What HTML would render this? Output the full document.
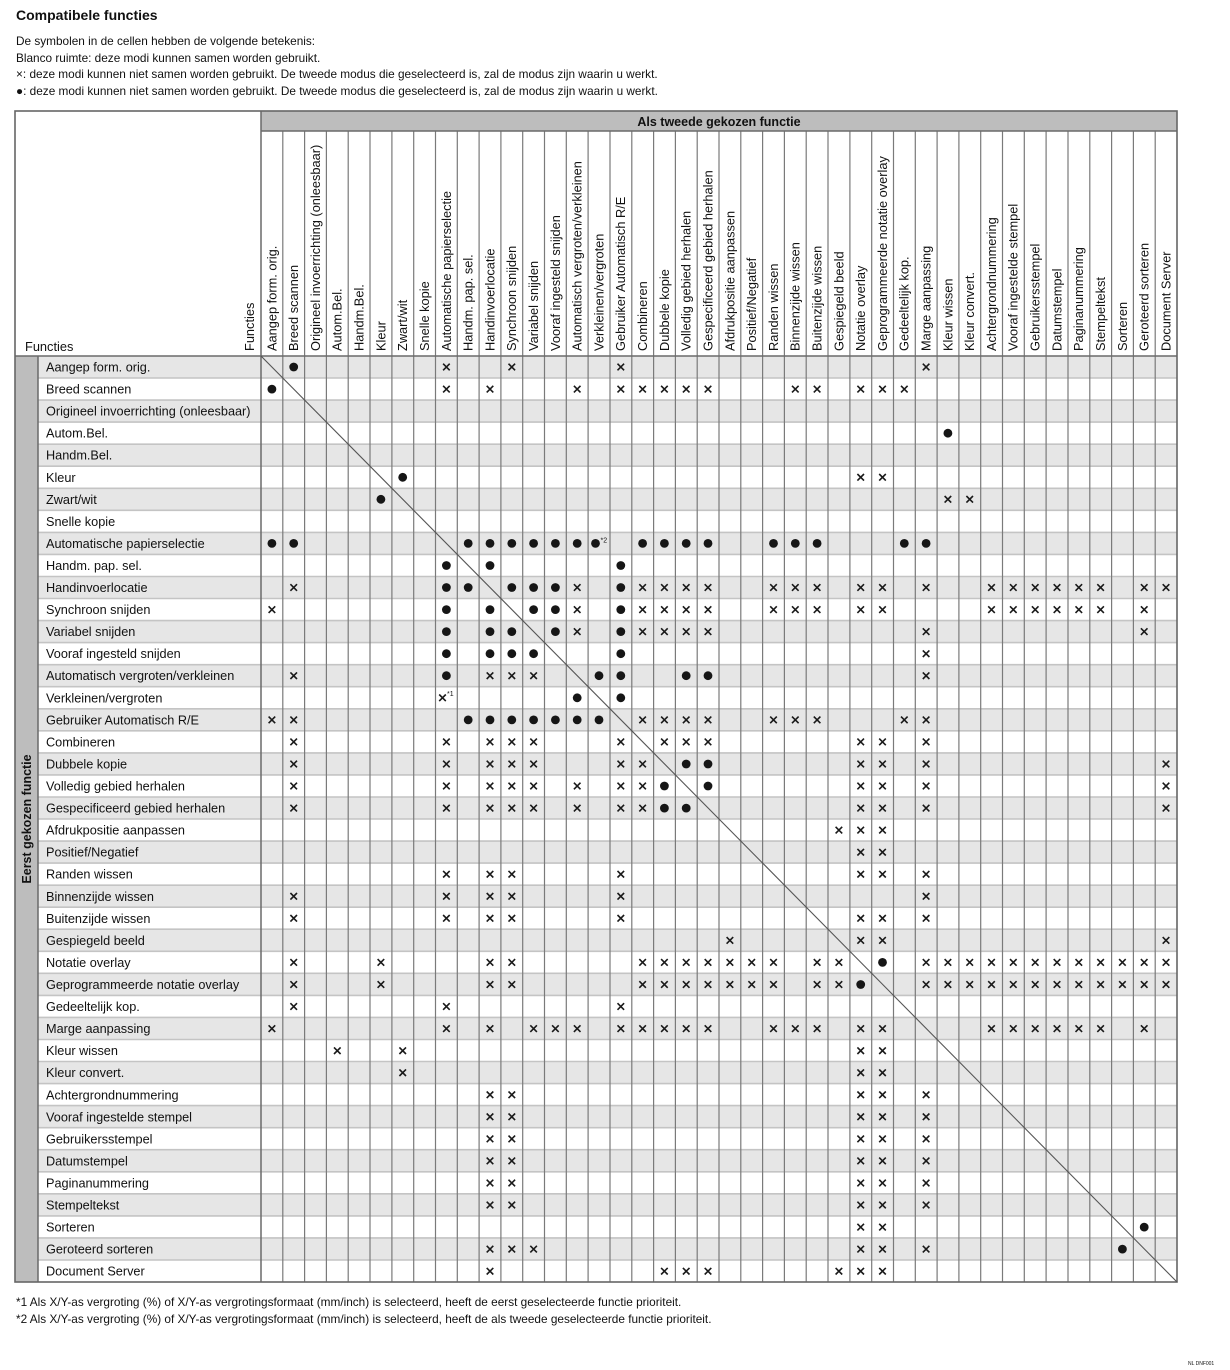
<!DOCTYPE html>
<html><head><meta charset="utf-8"><style>
html,body{margin:0;padding:0;background:#fff}
svg{display:block}
text{font-family:"Liberation Sans",Arial,sans-serif;fill:#111}
.h{font-size:12.8px}
.r{font-size:12.7px}
.t{font-size:11.8px}
</style></head><body>
<svg width="1230" height="1370" viewBox="0 0 1230 1370" xmlns="http://www.w3.org/2000/svg">
<defs>
<g id="x"><path d="M-3.3,-3.3L3.3,3.3M3.3,-3.3L-3.3,3.3" stroke="#1a1a1a" stroke-width="1.6"/></g>
<g id="d"><circle r="4.4" fill="#161616"/></g>
</defs>
<text x="16" y="20" style="font-size:14px;font-weight:bold">Compatibele functies</text>
<text class="t" x="16" y="45">De symbolen in de cellen hebben de volgende betekenis:</text>
<text class="t" x="16" y="62">Blanco ruimte: deze modi kunnen samen worden gebruikt.</text>
<text class="t" x="16" y="78">×: deze modi kunnen niet samen worden gebruikt. De tweede modus die geselecteerd is, zal de modus zijn waarin u werkt.</text>
<text class="t" x="16" y="95">●: deze modi kunnen niet samen worden gebruikt. De tweede modus die geselecteerd is, zal de modus zijn waarin u werkt.</text>

<rect x="261" y="111" width="916" height="20" fill="#bdbdbd"/>
<rect x="15" y="356" width="23" height="926" fill="#bdbdbd"/>
<g fill="#e6e6e6">
<rect x="38" y="356" width="1139" height="22"/>
<rect x="38" y="400.1" width="1139" height="22"/>
<rect x="38" y="444.2" width="1139" height="22"/>
<rect x="38" y="488.3" width="1139" height="22"/>
<rect x="38" y="532.4" width="1139" height="22"/>
<rect x="38" y="576.5" width="1139" height="22"/>
<rect x="38" y="620.6" width="1139" height="22"/>
<rect x="38" y="664.7" width="1139" height="22"/>
<rect x="38" y="708.8" width="1139" height="22"/>
<rect x="38" y="752.9" width="1139" height="22"/>
<rect x="38" y="797" width="1139" height="22"/>
<rect x="38" y="841.1" width="1139" height="22"/>
<rect x="38" y="885.2" width="1139" height="22"/>
<rect x="38" y="929.2" width="1139" height="22"/>
<rect x="38" y="973.3" width="1139" height="22"/>
<rect x="38" y="1017.4" width="1139" height="22"/>
<rect x="38" y="1061.5" width="1139" height="22"/>
<rect x="38" y="1105.6" width="1139" height="22"/>
<rect x="38" y="1149.7" width="1139" height="22"/>
<rect x="38" y="1193.8" width="1139" height="22"/>
<rect x="38" y="1237.9" width="1139" height="22"/>
</g>
<path stroke="#c4c4c4" stroke-width="1.6" fill="none" d="M38,378H1177M38,400.1H1177M38,422.1H1177M38,444.2H1177M38,466.2H1177M38,488.3H1177M38,510.3H1177M38,532.4H1177M38,554.4H1177M38,576.5H1177M38,598.5H1177M38,620.6H1177M38,642.6H1177M38,664.7H1177M38,686.7H1177M38,708.8H1177M38,730.8H1177M38,752.9H1177M38,774.9H1177M38,797H1177M38,819H1177M38,841.1H1177M38,863.1H1177M38,885.2H1177M38,907.2H1177M38,929.2H1177M38,951.3H1177M38,973.3H1177M38,995.4H1177M38,1017.4H1177M38,1039.5H1177M38,1061.5H1177M38,1083.6H1177M38,1105.6H1177M38,1127.7H1177M38,1149.7H1177M38,1171.8H1177M38,1193.8H1177M38,1215.9H1177M38,1237.9H1177M38,1260H1177"/>
<path stroke="#7a7a7a" stroke-width="1.2" fill="none" d="M282.8,131V1282M304.6,131V1282M326.4,131V1282M348.2,131V1282M370,131V1282M391.9,131V1282M413.7,131V1282M435.5,131V1282M457.3,131V1282M479.1,131V1282M500.9,131V1282M522.7,131V1282M544.5,131V1282M566.3,131V1282M588.1,131V1282M610,131V1282M631.8,131V1282M653.6,131V1282M675.4,131V1282M697.2,131V1282M719,131V1282M740.8,131V1282M762.6,131V1282M784.4,131V1282M806.2,131V1282M828,131V1282M849.9,131V1282M871.7,131V1282M893.5,131V1282M915.3,131V1282M937.1,131V1282M958.9,131V1282M980.7,131V1282M1002.5,131V1282M1024.3,131V1282M1046.1,131V1282M1068,131V1282M1089.8,131V1282M1111.6,131V1282M1133.4,131V1282M1155.2,131V1282"/>
<path stroke="#6a6a6a" stroke-width="1.5" fill="none" d="M261,111V1282M38,356V1282M15,356H1177M261,131H1177"/>
<rect x="15" y="111" width="1162" height="1171" fill="none" stroke="#666" stroke-width="1.6"/>
<line x1="261" y1="356" x2="1177" y2="1282" stroke="#555" stroke-width="1.1"/>

<text x="719" y="126" text-anchor="middle" style="font-size:12.5px;font-weight:bold">Als tweede gekozen functie</text>
<text transform="translate(31,819) rotate(-90)" text-anchor="middle" style="font-size:12.5px;font-weight:bold">Eerst gekozen functie</text>
<text class="h" x="25" y="351">Functies</text>
<text class="h" transform="translate(254,351) rotate(-90)">Functies</text>

<g class="h">
<text transform="translate(276.3,351) rotate(-90)">Aangep form. orig.</text>
<text transform="translate(298.1,351) rotate(-90)">Breed scannen</text>
<text transform="translate(319.9,351) rotate(-90)">Origineel invoerrichting (onleesbaar)</text>
<text transform="translate(341.7,351) rotate(-90)">Autom.Bel.</text>
<text transform="translate(363.5,351) rotate(-90)">Handm.Bel.</text>
<text transform="translate(385.3,351) rotate(-90)">Kleur</text>
<text transform="translate(407.1,351) rotate(-90)">Zwart/wit</text>
<text transform="translate(429,351) rotate(-90)">Snelle kopie</text>
<text transform="translate(450.8,351) rotate(-90)">Automatische papierselectie</text>
<text transform="translate(472.6,351) rotate(-90)">Handm. pap. sel.</text>
<text transform="translate(494.4,351) rotate(-90)">Handinvoerlocatie</text>
<text transform="translate(516.2,351) rotate(-90)">Synchroon snijden</text>
<text transform="translate(538,351) rotate(-90)">Variabel snijden</text>
<text transform="translate(559.8,351) rotate(-90)">Vooraf ingesteld snijden</text>
<text transform="translate(581.6,351) rotate(-90)">Automatisch vergroten/verkleinen</text>
<text transform="translate(603.4,351) rotate(-90)">Verkleinen/vergroten</text>
<text transform="translate(625.2,351) rotate(-90)">Gebruiker Automatisch R/E</text>
<text transform="translate(647,351) rotate(-90)">Combineren</text>
<text transform="translate(668.8,351) rotate(-90)">Dubbele kopie</text>
<text transform="translate(690.6,351) rotate(-90)">Volledig gebied herhalen</text>
<text transform="translate(712.4,351) rotate(-90)">Gespecificeerd gebied herhalen</text>
<text transform="translate(734.3,351) rotate(-90)">Afdrukpositie aanpassen</text>
<text transform="translate(756.1,351) rotate(-90)">Positief/Negatief</text>
<text transform="translate(777.9,351) rotate(-90)">Randen wissen</text>
<text transform="translate(799.7,351) rotate(-90)">Binnenzijde wissen</text>
<text transform="translate(821.5,351) rotate(-90)">Buitenzijde wissen</text>
<text transform="translate(843.3,351) rotate(-90)">Gespiegeld beeld</text>
<text transform="translate(865.1,351) rotate(-90)">Notatie overlay</text>
<text transform="translate(886.9,351) rotate(-90)">Geprogrammeerde notatie overlay</text>
<text transform="translate(908.7,351) rotate(-90)">Gedeeltelijk kop.</text>
<text transform="translate(930.5,351) rotate(-90)">Marge aanpassing</text>
<text transform="translate(952.3,351) rotate(-90)">Kleur wissen</text>
<text transform="translate(974.1,351) rotate(-90)">Kleur convert.</text>
<text transform="translate(995.9,351) rotate(-90)">Achtergrondnummering</text>
<text transform="translate(1017.7,351) rotate(-90)">Vooraf ingestelde stempel</text>
<text transform="translate(1039.6,351) rotate(-90)">Gebruikersstempel</text>
<text transform="translate(1061.4,351) rotate(-90)">Datumstempel</text>
<text transform="translate(1083.2,351) rotate(-90)">Paginanummering</text>
<text transform="translate(1105,351) rotate(-90)">Stempeltekst</text>
<text transform="translate(1126.8,351) rotate(-90)">Sorteren</text>
<text transform="translate(1148.6,351) rotate(-90)">Geroteerd sorteren</text>
<text transform="translate(1170.4,351) rotate(-90)">Document Server</text>
</g>

<g class="r">
<text x="46" y="371.5">Aangep form. orig.</text>
<text x="46" y="393.6">Breed scannen</text>
<text x="46" y="415.6">Origineel invoerrichting (onleesbaar)</text>
<text x="46" y="437.7">Autom.Bel.</text>
<text x="46" y="459.7">Handm.Bel.</text>
<text x="46" y="481.8">Kleur</text>
<text x="46" y="503.8">Zwart/wit</text>
<text x="46" y="525.9">Snelle kopie</text>
<text x="46" y="547.9">Automatische papierselectie</text>
<text x="46" y="570">Handm. pap. sel.</text>
<text x="46" y="592">Handinvoerlocatie</text>
<text x="46" y="614.1">Synchroon snijden</text>
<text x="46" y="636.1">Variabel snijden</text>
<text x="46" y="658.2">Vooraf ingesteld snijden</text>
<text x="46" y="680.2">Automatisch vergroten/verkleinen</text>
<text x="46" y="702.3">Verkleinen/vergroten</text>
<text x="46" y="724.4">Gebruiker Automatisch R/E</text>
<text x="46" y="746.4">Combineren</text>
<text x="46" y="768.5">Dubbele kopie</text>
<text x="46" y="790.5">Volledig gebied herhalen</text>
<text x="46" y="812.6">Gespecificeerd gebied herhalen</text>
<text x="46" y="834.6">Afdrukpositie aanpassen</text>
<text x="46" y="856.7">Positief/Negatief</text>
<text x="46" y="878.7">Randen wissen</text>
<text x="46" y="900.8">Binnenzijde wissen</text>
<text x="46" y="922.8">Buitenzijde wissen</text>
<text x="46" y="944.9">Gespiegeld beeld</text>
<text x="46" y="966.9">Notatie overlay</text>
<text x="46" y="989">Geprogrammeerde notatie overlay</text>
<text x="46" y="1011">Gedeeltelijk kop.</text>
<text x="46" y="1033.1">Marge aanpassing</text>
<text x="46" y="1055.2">Kleur wissen</text>
<text x="46" y="1077.2">Kleur convert.</text>
<text x="46" y="1099.3">Achtergrondnummering</text>
<text x="46" y="1121.3">Vooraf ingestelde stempel</text>
<text x="46" y="1143.4">Gebruikersstempel</text>
<text x="46" y="1165.4">Datumstempel</text>
<text x="46" y="1187.5">Paginanummering</text>
<text x="46" y="1209.5">Stempeltekst</text>
<text x="46" y="1231.6">Sorteren</text>
<text x="46" y="1253.6">Geroteerd sorteren</text>
<text x="46" y="1275.7">Document Server</text>
</g>

<g transform="translate(0,367)"><use href="#d" x="293.7"/><use href="#x" x="446.4"/><use href="#x" x="511.8"/><use href="#x" x="620.8"/><use href="#x" x="926.1"/></g>
<g transform="translate(0,389.1)"><use href="#d" x="271.9"/><use href="#x" x="446.4"/><use href="#x" x="490"/><use href="#x" x="577.2"/><use href="#x" x="620.8"/><use href="#x" x="642.6"/><use href="#x" x="664.4"/><use href="#x" x="686.2"/><use href="#x" x="708"/><use href="#x" x="795.3"/><use href="#x" x="817.1"/><use href="#x" x="860.7"/><use href="#x" x="882.5"/><use href="#x" x="904.3"/></g>
<g transform="translate(0,433.2)"><use href="#d" x="947.9"/></g>
<g transform="translate(0,477.3)"><use href="#d" x="402.7"/><use href="#x" x="860.7"/><use href="#x" x="882.5"/></g>
<g transform="translate(0,499.3)"><use href="#d" x="380.9"/><use href="#x" x="947.9"/><use href="#x" x="969.7"/></g>
<g transform="translate(0,543.4)"><use href="#d" x="271.9"/><use href="#d" x="293.7"/><use href="#d" x="468.2"/><use href="#d" x="490"/><use href="#d" x="511.8"/><use href="#d" x="533.6"/><use href="#d" x="555.4"/><use href="#d" x="577.2"/><use href="#d" x="595.5"/><use href="#d" x="642.6"/><use href="#d" x="664.4"/><use href="#d" x="686.2"/><use href="#d" x="708"/><use href="#d" x="773.5"/><use href="#d" x="795.3"/><use href="#d" x="817.1"/><use href="#d" x="904.3"/><use href="#d" x="926.1"/><text x="600.5" y="-1" style="font-size:7px">*2</text></g>
<g transform="translate(0,565.5)"><use href="#d" x="446.4"/><use href="#d" x="490"/><use href="#d" x="620.8"/></g>
<g transform="translate(0,587.5)"><use href="#x" x="293.7"/><use href="#d" x="446.4"/><use href="#d" x="468.2"/><use href="#d" x="511.8"/><use href="#d" x="533.6"/><use href="#d" x="555.4"/><use href="#x" x="577.2"/><use href="#d" x="620.8"/><use href="#x" x="642.6"/><use href="#x" x="664.4"/><use href="#x" x="686.2"/><use href="#x" x="708"/><use href="#x" x="773.5"/><use href="#x" x="795.3"/><use href="#x" x="817.1"/><use href="#x" x="860.7"/><use href="#x" x="882.5"/><use href="#x" x="926.1"/><use href="#x" x="991.5"/><use href="#x" x="1013.3"/><use href="#x" x="1035.2"/><use href="#x" x="1057"/><use href="#x" x="1078.8"/><use href="#x" x="1100.6"/><use href="#x" x="1144.2"/><use href="#x" x="1166"/></g>
<g transform="translate(0,609.6)"><use href="#x" x="271.9"/><use href="#d" x="446.4"/><use href="#d" x="490"/><use href="#d" x="533.6"/><use href="#d" x="555.4"/><use href="#x" x="577.2"/><use href="#d" x="620.8"/><use href="#x" x="642.6"/><use href="#x" x="664.4"/><use href="#x" x="686.2"/><use href="#x" x="708"/><use href="#x" x="773.5"/><use href="#x" x="795.3"/><use href="#x" x="817.1"/><use href="#x" x="860.7"/><use href="#x" x="882.5"/><use href="#x" x="991.5"/><use href="#x" x="1013.3"/><use href="#x" x="1035.2"/><use href="#x" x="1057"/><use href="#x" x="1078.8"/><use href="#x" x="1100.6"/><use href="#x" x="1144.2"/></g>
<g transform="translate(0,631.6)"><use href="#d" x="446.4"/><use href="#d" x="490"/><use href="#d" x="511.8"/><use href="#d" x="555.4"/><use href="#x" x="577.2"/><use href="#d" x="620.8"/><use href="#x" x="642.6"/><use href="#x" x="664.4"/><use href="#x" x="686.2"/><use href="#x" x="708"/><use href="#x" x="926.1"/><use href="#x" x="1144.2"/></g>
<g transform="translate(0,653.7)"><use href="#d" x="446.4"/><use href="#d" x="490"/><use href="#d" x="511.8"/><use href="#d" x="533.6"/><use href="#d" x="620.8"/><use href="#x" x="926.1"/></g>
<g transform="translate(0,675.7)"><use href="#x" x="293.7"/><use href="#d" x="446.4"/><use href="#x" x="490"/><use href="#x" x="511.8"/><use href="#x" x="533.6"/><use href="#d" x="599"/><use href="#d" x="620.8"/><use href="#d" x="686.2"/><use href="#d" x="708"/><use href="#x" x="926.1"/></g>
<g transform="translate(0,697.8)"><use href="#x" x="442.5"/><text x="447" y="-2" style="font-size:7px">*1</text><use href="#d" x="577.2"/><use href="#d" x="620.8"/></g>
<g transform="translate(0,719.9)"><use href="#x" x="271.9"/><use href="#x" x="293.7"/><use href="#d" x="468.2"/><use href="#d" x="490"/><use href="#d" x="511.8"/><use href="#d" x="533.6"/><use href="#d" x="555.4"/><use href="#d" x="577.2"/><use href="#d" x="599"/><use href="#x" x="642.6"/><use href="#x" x="664.4"/><use href="#x" x="686.2"/><use href="#x" x="708"/><use href="#x" x="773.5"/><use href="#x" x="795.3"/><use href="#x" x="817.1"/><use href="#x" x="904.3"/><use href="#x" x="926.1"/></g>
<g transform="translate(0,741.9)"><use href="#x" x="293.7"/><use href="#x" x="446.4"/><use href="#x" x="490"/><use href="#x" x="511.8"/><use href="#x" x="533.6"/><use href="#x" x="620.8"/><use href="#x" x="664.4"/><use href="#x" x="686.2"/><use href="#x" x="708"/><use href="#x" x="860.7"/><use href="#x" x="882.5"/><use href="#x" x="926.1"/></g>
<g transform="translate(0,764)"><use href="#x" x="293.7"/><use href="#x" x="446.4"/><use href="#x" x="490"/><use href="#x" x="511.8"/><use href="#x" x="533.6"/><use href="#x" x="620.8"/><use href="#x" x="642.6"/><use href="#d" x="686.2"/><use href="#d" x="708"/><use href="#x" x="860.7"/><use href="#x" x="882.5"/><use href="#x" x="926.1"/><use href="#x" x="1166"/></g>
<g transform="translate(0,786)"><use href="#x" x="293.7"/><use href="#x" x="446.4"/><use href="#x" x="490"/><use href="#x" x="511.8"/><use href="#x" x="533.6"/><use href="#x" x="577.2"/><use href="#x" x="620.8"/><use href="#x" x="642.6"/><use href="#d" x="664.4"/><use href="#d" x="708"/><use href="#x" x="860.7"/><use href="#x" x="882.5"/><use href="#x" x="926.1"/><use href="#x" x="1166"/></g>
<g transform="translate(0,808.1)"><use href="#x" x="293.7"/><use href="#x" x="446.4"/><use href="#x" x="490"/><use href="#x" x="511.8"/><use href="#x" x="533.6"/><use href="#x" x="577.2"/><use href="#x" x="620.8"/><use href="#x" x="642.6"/><use href="#d" x="664.4"/><use href="#d" x="686.2"/><use href="#x" x="860.7"/><use href="#x" x="882.5"/><use href="#x" x="926.1"/><use href="#x" x="1166"/></g>
<g transform="translate(0,830.1)"><use href="#x" x="838.9"/><use href="#x" x="860.7"/><use href="#x" x="882.5"/></g>
<g transform="translate(0,852.2)"><use href="#x" x="860.7"/><use href="#x" x="882.5"/></g>
<g transform="translate(0,874.2)"><use href="#x" x="446.4"/><use href="#x" x="490"/><use href="#x" x="511.8"/><use href="#x" x="620.8"/><use href="#x" x="860.7"/><use href="#x" x="882.5"/><use href="#x" x="926.1"/></g>
<g transform="translate(0,896.3)"><use href="#x" x="293.7"/><use href="#x" x="446.4"/><use href="#x" x="490"/><use href="#x" x="511.8"/><use href="#x" x="620.8"/><use href="#x" x="926.1"/></g>
<g transform="translate(0,918.3)"><use href="#x" x="293.7"/><use href="#x" x="446.4"/><use href="#x" x="490"/><use href="#x" x="511.8"/><use href="#x" x="620.8"/><use href="#x" x="860.7"/><use href="#x" x="882.5"/><use href="#x" x="926.1"/></g>
<g transform="translate(0,940.4)"><use href="#x" x="729.9"/><use href="#x" x="860.7"/><use href="#x" x="882.5"/><use href="#x" x="1166"/></g>
<g transform="translate(0,962.4)"><use href="#x" x="293.7"/><use href="#x" x="380.9"/><use href="#x" x="490"/><use href="#x" x="511.8"/><use href="#x" x="642.6"/><use href="#x" x="664.4"/><use href="#x" x="686.2"/><use href="#x" x="708"/><use href="#x" x="729.9"/><use href="#x" x="751.7"/><use href="#x" x="773.5"/><use href="#x" x="817.1"/><use href="#x" x="838.9"/><use href="#d" x="882.5"/><use href="#x" x="926.1"/><use href="#x" x="947.9"/><use href="#x" x="969.7"/><use href="#x" x="991.5"/><use href="#x" x="1013.3"/><use href="#x" x="1035.2"/><use href="#x" x="1057"/><use href="#x" x="1078.8"/><use href="#x" x="1100.6"/><use href="#x" x="1122.4"/><use href="#x" x="1144.2"/><use href="#x" x="1166"/></g>
<g transform="translate(0,984.5)"><use href="#x" x="293.7"/><use href="#x" x="380.9"/><use href="#x" x="490"/><use href="#x" x="511.8"/><use href="#x" x="642.6"/><use href="#x" x="664.4"/><use href="#x" x="686.2"/><use href="#x" x="708"/><use href="#x" x="729.9"/><use href="#x" x="751.7"/><use href="#x" x="773.5"/><use href="#x" x="817.1"/><use href="#x" x="838.9"/><use href="#d" x="860.7"/><use href="#x" x="926.1"/><use href="#x" x="947.9"/><use href="#x" x="969.7"/><use href="#x" x="991.5"/><use href="#x" x="1013.3"/><use href="#x" x="1035.2"/><use href="#x" x="1057"/><use href="#x" x="1078.8"/><use href="#x" x="1100.6"/><use href="#x" x="1122.4"/><use href="#x" x="1144.2"/><use href="#x" x="1166"/></g>
<g transform="translate(0,1006.5)"><use href="#x" x="293.7"/><use href="#x" x="446.4"/><use href="#x" x="620.8"/></g>
<g transform="translate(0,1028.6)"><use href="#x" x="271.9"/><use href="#x" x="446.4"/><use href="#x" x="490"/><use href="#x" x="533.6"/><use href="#x" x="555.4"/><use href="#x" x="577.2"/><use href="#x" x="620.8"/><use href="#x" x="642.6"/><use href="#x" x="664.4"/><use href="#x" x="686.2"/><use href="#x" x="708"/><use href="#x" x="773.5"/><use href="#x" x="795.3"/><use href="#x" x="817.1"/><use href="#x" x="860.7"/><use href="#x" x="882.5"/><use href="#x" x="991.5"/><use href="#x" x="1013.3"/><use href="#x" x="1035.2"/><use href="#x" x="1057"/><use href="#x" x="1078.8"/><use href="#x" x="1100.6"/><use href="#x" x="1144.2"/></g>
<g transform="translate(0,1050.7)"><use href="#x" x="337.3"/><use href="#x" x="402.7"/><use href="#x" x="860.7"/><use href="#x" x="882.5"/></g>
<g transform="translate(0,1072.7)"><use href="#x" x="402.7"/><use href="#x" x="860.7"/><use href="#x" x="882.5"/></g>
<g transform="translate(0,1094.8)"><use href="#x" x="490"/><use href="#x" x="511.8"/><use href="#x" x="860.7"/><use href="#x" x="882.5"/><use href="#x" x="926.1"/></g>
<g transform="translate(0,1116.8)"><use href="#x" x="490"/><use href="#x" x="511.8"/><use href="#x" x="860.7"/><use href="#x" x="882.5"/><use href="#x" x="926.1"/></g>
<g transform="translate(0,1138.9)"><use href="#x" x="490"/><use href="#x" x="511.8"/><use href="#x" x="860.7"/><use href="#x" x="882.5"/><use href="#x" x="926.1"/></g>
<g transform="translate(0,1160.9)"><use href="#x" x="490"/><use href="#x" x="511.8"/><use href="#x" x="860.7"/><use href="#x" x="882.5"/><use href="#x" x="926.1"/></g>
<g transform="translate(0,1183)"><use href="#x" x="490"/><use href="#x" x="511.8"/><use href="#x" x="860.7"/><use href="#x" x="882.5"/><use href="#x" x="926.1"/></g>
<g transform="translate(0,1205)"><use href="#x" x="490"/><use href="#x" x="511.8"/><use href="#x" x="860.7"/><use href="#x" x="882.5"/><use href="#x" x="926.1"/></g>
<g transform="translate(0,1227.1)"><use href="#x" x="860.7"/><use href="#x" x="882.5"/><use href="#d" x="1144.2"/></g>
<g transform="translate(0,1249.1)"><use href="#x" x="490"/><use href="#x" x="511.8"/><use href="#x" x="533.6"/><use href="#x" x="860.7"/><use href="#x" x="882.5"/><use href="#x" x="926.1"/><use href="#d" x="1122.4"/></g>
<g transform="translate(0,1271.2)"><use href="#x" x="490"/><use href="#x" x="664.4"/><use href="#x" x="686.2"/><use href="#x" x="708"/><use href="#x" x="838.9"/><use href="#x" x="860.7"/><use href="#x" x="882.5"/></g>

<text class="t" x="16" y="1306">*1 Als X/Y-as vergroting (%) of X/Y-as vergrotingsformaat (mm/inch) is selecteerd, heeft de eerst geselecteerde functie prioriteit.</text>
<text class="t" x="16" y="1323">*2 Als X/Y-as vergroting (%) of X/Y-as vergrotingsformaat (mm/inch) is selecteerd, heeft de als tweede geselecteerde functie prioriteit.</text>
<text x="1188" y="1365" style="font-size:5px">NL DNF001</text>
</svg>
</body></html>
